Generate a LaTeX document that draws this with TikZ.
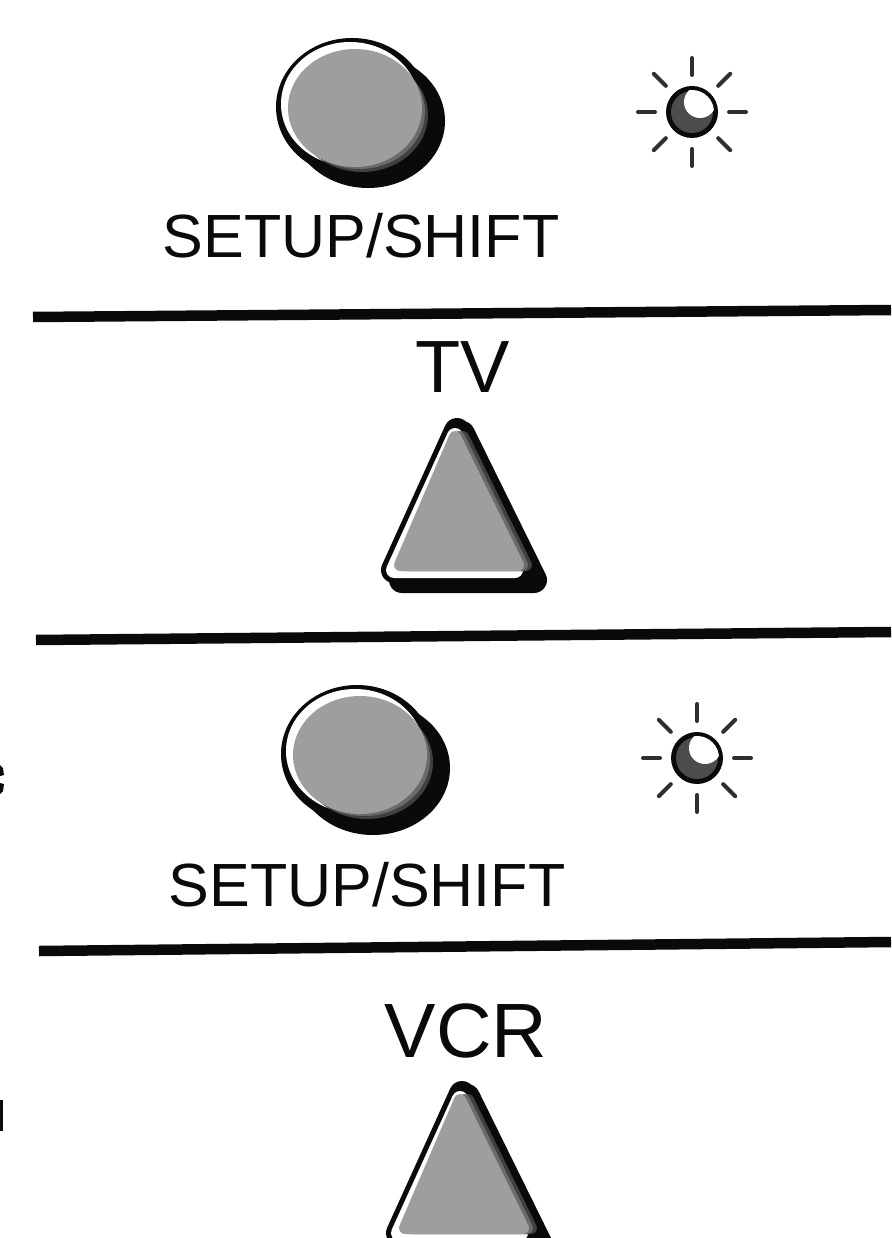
\documentclass[tikz,border=0pt]{standalone}
\usepackage{fontspec}
\setmainfont{Liberation Sans}
\definecolor{btn}{gray}{0.62}
\definecolor{ink}{gray}{0.04}
\definecolor{shadeA}{gray}{0.25}
\definecolor{shadeB}{gray}{0.42}
\definecolor{ballgray}{gray}{0.3}
\tikzset{
  x=1pt,y=-1pt,
  rule/.style={draw=ink,line width=10.5pt},
  lbl/.style={text=ink,inner sep=0pt,anchor=base},
  setuplbl/.style={lbl,font=\fontsize{61}{61}\selectfont},
  tvlbl/.style={lbl,font=\fontsize{74}{74}\selectfont},
  vcrlbl/.style={lbl,font=\fontsize{77}{77}\selectfont},
  ray/.style={draw=ink!85,line width=4pt,line cap=round},
  tribody/.style={line width=#1,line join=round},
}
\newcommand{\roundbtn}[2]{%
  \begin{scope}[shift={(#1,#2)}]
    \fill[ink] (16,14) ellipse (77 and 67);
    \fill[ink] (0,0) ellipse (76 and 69);
    \fill[white] (-2,-3) ellipse (69 and 62);
    \fill[shadeA] (10,8) ellipse (66 and 57);
    \fill[shadeB] (7,5) ellipse (66 and 57);
    \fill[btn] (3,1) ellipse (67 and 59);
  \end{scope}}
\newcommand{\sunicon}[2]{%
  \begin{scope}[shift={(#1,#2)}]
    \foreach \a in {0,45,...,315}{\draw[ray] (\a:37) -- (\a:54);}
    \fill[ink] (0,0) circle (26);
    \fill[ballgray] (0,0) circle (21);
    \begin{scope}
      \clip (0,0) circle (22);
      \fill[white] (8,-10) circle (16);
    \end{scope}
  \end{scope}}
\newcommand{\tribtn}[2]{%
  \begin{scope}[shift={(#1,#2)}]
    \draw[ink,fill=ink,tribody=26pt] (462,434) -- (534,580) -- (402,580) -- cycle;
    \draw[ink,fill=ink,tribody=26pt] (457,431) -- (525,570) -- (394,570) -- cycle;
    \draw[white,tribody=16pt,line cap=round] (455,436) -- (394,570) -- (515,570);
    \draw[shadeA,fill=shadeA,tribody=12pt] (463,437) -- (526,565) -- (408,565) -- cycle;
    \draw[shadeB,fill=shadeB,tribody=12pt] (459,437) -- (522,565) -- (404,565) -- cycle;
    \draw[btn,fill=btn,tribody=12pt] (455,437) -- (518,565) -- (400,565) -- cycle;
  \end{scope}}
\begin{document}
\begin{tikzpicture}
\useasboundingbox (0,0) rectangle (891,1238);
\clip (0,0) rectangle (891,1238);
% rules
\coordinate (r1a) at (33,317); \coordinate (r1b) at (891,310);
\coordinate (r2a) at (36,640); \coordinate (r2b) at (891,632);
\coordinate (r3a) at (39,951); \coordinate (r3b) at (891,942);
\draw[rule] (r1a) -- (r1b);
\draw[rule] (r2a) -- (r2b);
\draw[rule] (r3a) -- (r3b);
% round buttons
\roundbtn{352}{107}
\roundbtn{357}{754}
% indicators
\sunicon{692}{112}
\sunicon{697}{758}
% triangles
\tribtn{0}{0}
\tribtn{5}{663}
% labels
\node[setuplbl] (s1) at (361,258) {SETUP/SHIFT};
\node[setuplbl] (s2) at (367,906) {SETUP/SHIFT};
\node[tvlbl] (tv) at (463,392) {TV};
\node[vcrlbl] (vcr) at (466,1057) {VCR};
% cropped marks at the left edge
\fill[ink] (0,765) -- (3,768) -- (4,775) -- (0,776) -- cycle;
\fill[ink] (0,783) -- (4,784) -- (3,791) -- (0,794) -- cycle;
\fill[ink] (0,1100) rectangle (3,1131);
\end{tikzpicture}
\end{document}
